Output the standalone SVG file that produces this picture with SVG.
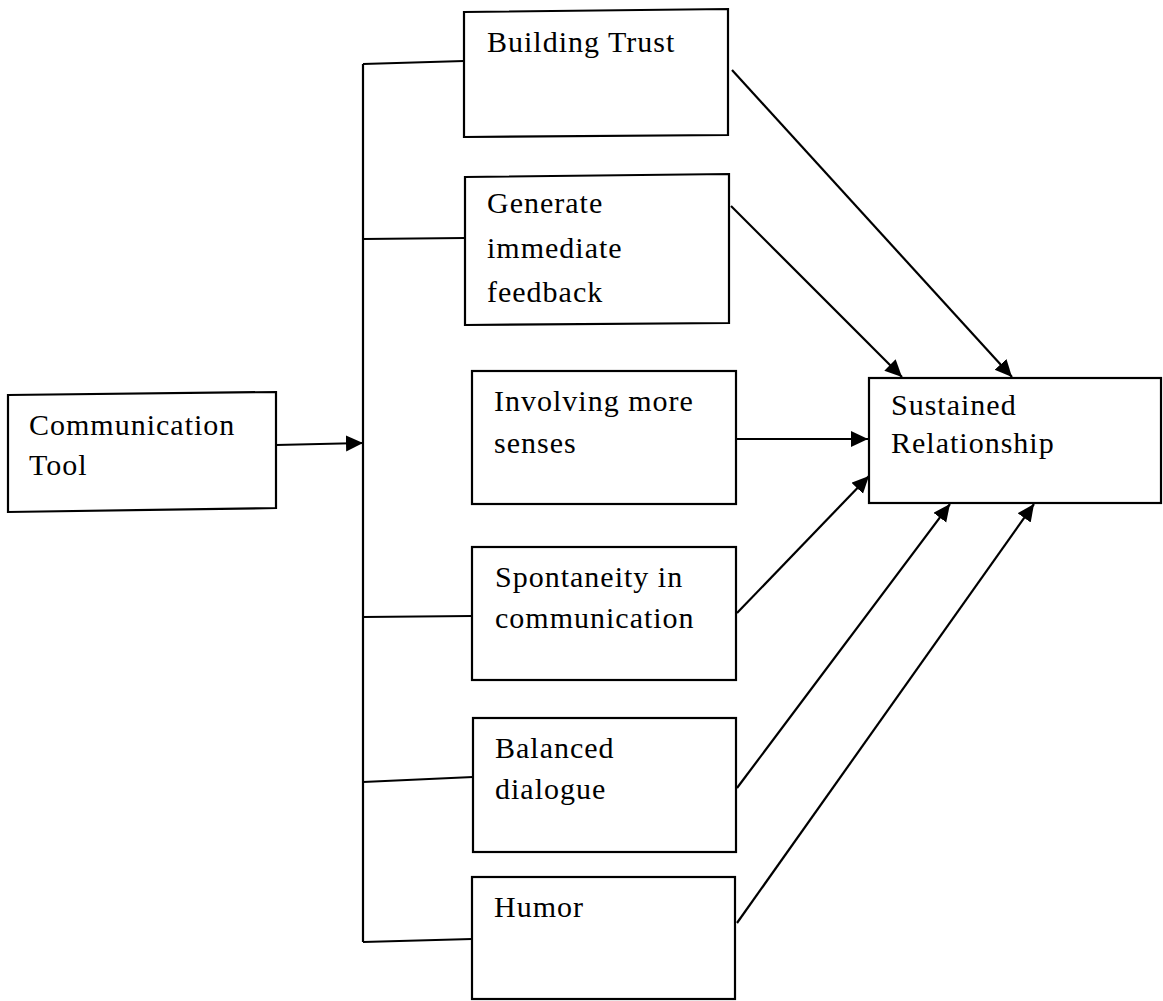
<svg xmlns="http://www.w3.org/2000/svg" width="1163" height="1001" viewBox="0 0 1163 1001">
<style>
  .box { fill: #fff; stroke: #000; stroke-width: 2.2; }
  .lbl { font-family: "Liberation Serif", "Times New Roman", serif; font-size: 30px; letter-spacing: 1px; fill: #000; }
  .ln { fill: none; stroke: #000; stroke-width: 2.2; }
</style>
<defs>
  <marker id="ah" markerUnits="userSpaceOnUse" markerWidth="20" markerHeight="18" refX="17" refY="8" orient="auto">
    <path d="M0,0 L17,8 L0,16 Z" fill="#000"/>
  </marker>
</defs>
<rect width="1163" height="1001" fill="#fff"/>
<g id="connectors">
  <line class="ln" x1="363" y1="64" x2="363" y2="942"/>
  <line class="ln" x1="363" y1="64" x2="464" y2="61"/>
  <line class="ln" x1="363" y1="239" x2="465" y2="238"/>
  <line class="ln" x1="363" y1="617" x2="472" y2="616"/>
  <line class="ln" x1="363" y1="782" x2="473" y2="777"/>
  <line class="ln" x1="363" y1="942" x2="472" y2="939"/>
  <line class="ln" x1="276" y1="445" x2="363" y2="443" marker-end="url(#ah)"/>
  <line class="ln" x1="732" y1="70" x2="1012" y2="377" marker-end="url(#ah)"/>
  <line class="ln" x1="731" y1="206" x2="902" y2="377" marker-end="url(#ah)"/>
  <line class="ln" x1="736" y1="439" x2="868" y2="439" marker-end="url(#ah)"/>
  <line class="ln" x1="737" y1="613" x2="869" y2="476" marker-end="url(#ah)"/>
  <line class="ln" x1="737" y1="788" x2="950" y2="504" marker-end="url(#ah)"/>
  <line class="ln" x1="737" y1="923" x2="1034" y2="504" marker-end="url(#ah)"/>
</g>
<g id="communication-tool">
  <path class="box" d="M8,395 L276,392 L276,508 L8,512 Z"/>
  <text class="lbl" x="29" y="435">Communication</text>
  <text class="lbl" x="29" y="475">Tool</text>
</g>
<g id="building-trust">
  <path class="box" d="M464,12 L728,9 L728,135 L464,137 Z"/>
  <text class="lbl" x="487" y="52">Building Trust</text>
</g>
<g id="generate-feedback">
  <path class="box" d="M465,177 L729,174 L729,323 L465,325 Z"/>
  <text class="lbl" x="487" y="213">Generate</text>
  <text class="lbl" x="487" y="258">immediate</text>
  <text class="lbl" x="487" y="302">feedback</text>
</g>
<g id="involving-senses">
  <rect class="box" x="472" y="371" width="264" height="133"/>
  <text class="lbl" x="494" y="411">Involving more</text>
  <text class="lbl" x="494" y="453">senses</text>
</g>
<g id="spontaneity">
  <rect class="box" x="472" y="547" width="264" height="133"/>
  <text class="lbl" x="495" y="587">Spontaneity in</text>
  <text class="lbl" x="495" y="628">communication</text>
</g>
<g id="balanced-dialogue">
  <rect class="box" x="473" y="718" width="263" height="134"/>
  <text class="lbl" x="495" y="758">Balanced</text>
  <text class="lbl" x="495" y="799">dialogue</text>
</g>
<g id="humor">
  <rect class="box" x="472" y="877" width="263" height="122"/>
  <text class="lbl" x="494" y="917">Humor</text>
</g>
<g id="sustained-relationship">
  <rect class="box" x="869" y="378" width="292" height="125"/>
  <text class="lbl" x="891" y="415">Sustained</text>
  <text class="lbl" x="891" y="453">Relationship</text>
</g>
</svg>
